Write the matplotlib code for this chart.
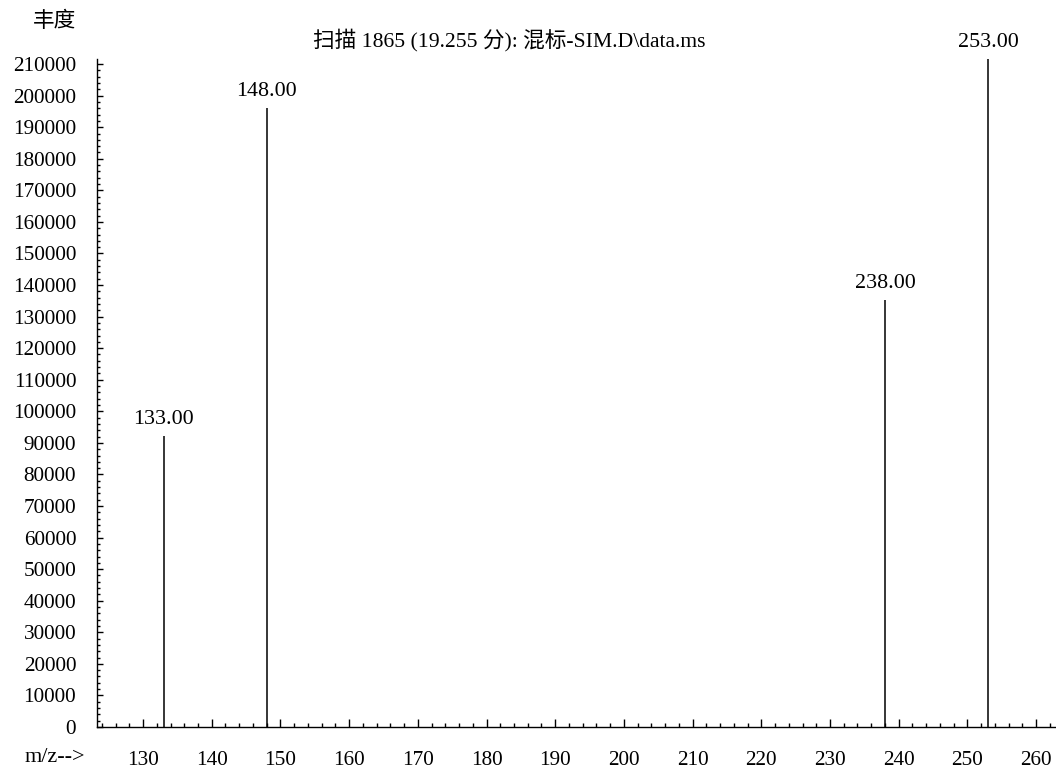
import matplotlib
matplotlib.use("Agg")
import matplotlib.pyplot as plt
from matplotlib.ticker import MultipleLocator

# 字体：英文数字用衬线体，中文回落到 Noto Sans CJK
plt.rcParams['font.family'] = ['Liberation Serif', 'Noto Sans CJK SC']
plt.rcParams['axes.unicode_minus'] = False

# 质谱数据
mz = [133.00, 148.00, 238.00, 253.00]
abundance = [92200, 196000, 135200, 211500]
peak_labels = ["133.00", "148.00", "238.00", "253.00"]

title = "扫描 1865 (19.255 分): 混标-SIM.D\\data.ms"
ylabel = "丰度"
xlabel = "m/z-->"

fig = plt.figure(figsize=(10.56, 7.69), dpi=100)
ax = fig.add_axes([97 / 1056, 1 - 727 / 769, 1 - 97 / 1056, (727 - 59) / 769])

ax.vlines(mz, 0, abundance, color="black", linewidth=1.1)
for x, y, lab in zip(mz, abundance, peak_labels):
    ax.annotate(lab, (x, y), xytext=(0, 5), textcoords="offset points",
                ha="center", va="bottom", fontsize=15.8)

ax.set_xlim(123.3, 262.9)
ax.set_ylim(0, 211600)

ax.spines['top'].set_visible(False)
ax.spines['right'].set_visible(False)
ax.spines['left'].set_linewidth(1.0)
ax.spines['bottom'].set_linewidth(1.0)

ax.xaxis.set_major_locator(MultipleLocator(10))
ax.xaxis.set_minor_locator(MultipleLocator(2))
ax.yaxis.set_major_locator(MultipleLocator(10000))
ax.yaxis.set_minor_locator(MultipleLocator(2000))

ax.tick_params(axis='x', which='major', direction='in', length=6, width=1, pad=17, labelsize=15.3)
ax.tick_params(axis='x', which='minor', direction='in', length=3, width=1)
ax.tick_params(axis='y', which='major', direction='in', length=4, width=1, pad=15, labelsize=15.3)
ax.tick_params(axis='y', which='minor', direction='in', length=2.5, width=1)

ax.set_xticks([130, 140, 150, 160, 170, 180, 190, 200, 210, 220, 230, 240, 250, 260])
ax.set_xticklabels([str(v) for v in range(130, 261, 10)])
ax.set_yticks(range(0, 210001, 10000))
ax.set_yticklabels([str(v) for v in range(0, 210001, 10000)])

fig.text(509 / 1056, 1 - 40 / 769, title, ha="center", va="center", fontsize=15.6)
fig.text(55 / 1056, 1 - 22 / 769, ylabel, ha="center", va="center", fontsize=15.6)
fig.text(55 / 1056, 1 - 757 / 769, xlabel, ha="center", va="center", fontsize=16)

fig.savefig("out.png", dpi=100)
